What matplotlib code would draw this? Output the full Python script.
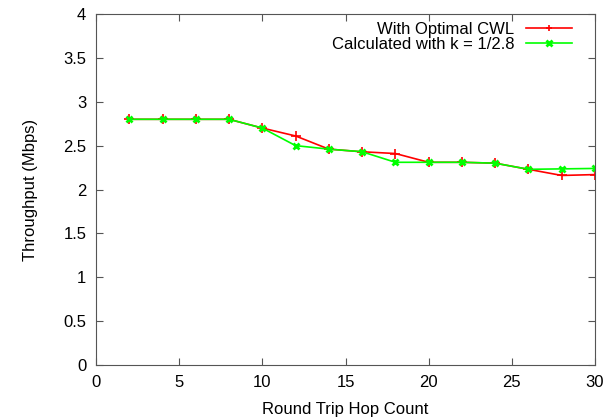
import matplotlib
matplotlib.use('Agg')
import matplotlib.pyplot as plt

# hop count vs throughput
hops = [2, 4, 6, 8, 10, 12, 14, 16, 18, 20, 22, 24, 26, 28, 30]
optimal = [2.80, 2.80, 2.80, 2.80, 2.70, 2.61, 2.46, 2.43, 2.41, 2.31, 2.31, 2.30, 2.23, 2.16, 2.17]
calc = [2.80, 2.80, 2.80, 2.80, 2.70, 2.50, 2.46, 2.43, 2.31, 2.31, 2.31, 2.30, 2.23, 2.235, 2.24]

plt.rcParams['font.family'] = ['Liberation Sans', 'DejaVu Sans']
plt.rcParams['font.size'] = 12

fig = plt.figure(figsize=(6.13, 4.17), dpi=100)
ax = fig.add_axes([96/613, 52/417, 499/613, 351/417])

ax.plot(hops, optimal, color='#ff0000', marker='+', markersize=6.5, mew=1.2, lw=1.2,
        label='With Optimal CWL')
ax.plot(hops, calc, color='#00ff00', marker='x', markersize=5, mew=2, lw=1.2,
        label='Calculated with k = 1/2.8')

ax.set_xlim(0, 30)
ax.set_ylim(0, 4)
ax.set_xticks([0, 5, 10, 15, 20, 25, 30])
ax.set_yticks([0, 0.5, 1, 1.5, 2, 2.5, 3, 3.5, 4])
ax.set_yticklabels(['0', '0.5', '1', '1.5', '2', '2.5', '3', '3.5', '4'])
ax.tick_params(direction='in', length=5, top=True, right=True, color='#555555', pad=7)
for s in ax.spines.values():
    s.set_color('#555555')

ax.set_xlabel('Round Trip Hop Count', labelpad=9)
ax.set_ylabel('Throughput (Mbps)', labelpad=18)

ax.legend(loc='upper right', markerfirst=False, frameon=False, handlelength=2.75,
          labelspacing=0.0, borderaxespad=0.0, borderpad=0.3, handletextpad=0.7,
          markerscale=0.75, bbox_to_anchor=(1 - 18/499, 1 - 3/351))

fig.savefig('out.png', dpi=100)
